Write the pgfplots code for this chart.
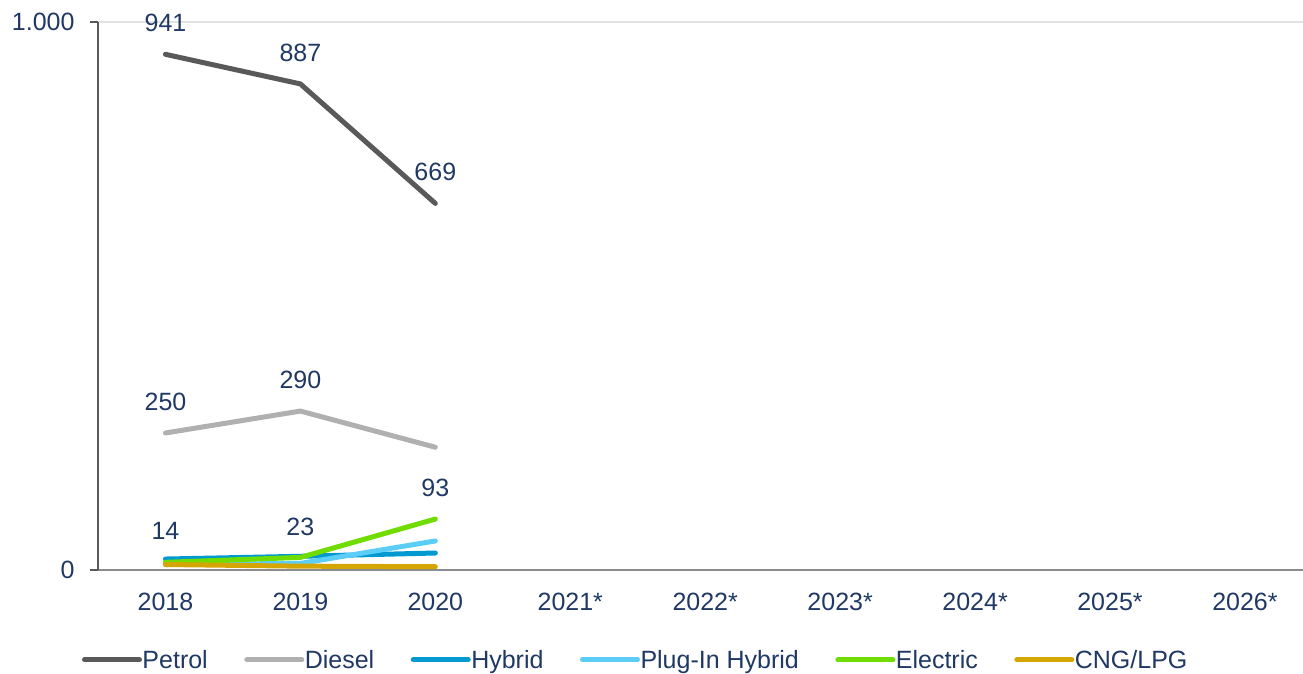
\documentclass[border=0pt]{standalone}
\usepackage{fontspec}
\setmainfont{Liberation Sans}
\usepackage{pgfplots}
\pgfplotsset{compat=1.18}

\definecolor{txt}{HTML}{1F3864}
\definecolor{cPetrol}{HTML}{595959}
\definecolor{cDiesel}{HTML}{B0B0B0}
\definecolor{cHybrid}{HTML}{009AD0}
\definecolor{cPlugin}{HTML}{5CCDF7}
\definecolor{cElectric}{HTML}{70DC00}
\definecolor{cCNG}{HTML}{D6A600}
\definecolor{cGrid}{HTML}{E3E3E3}

\newcommand{\chartfont}{\fontsize{25}{29}\selectfont}

\begin{document}
\begin{tikzpicture}[x=1pt,y=1pt,font=\chartfont]
\useasboundingbox (0,0) rectangle (1303,674);
\begin{axis}[
  at={(98pt,104pt)}, anchor=south west,
  scale only axis, width=1205pt, height=548pt,
  xmin=-0.5, xmax=8.43, ymin=0, ymax=1000,
  clip=false,
  axis x line=bottom, axis y line=left,
  x axis line style={-, draw=gray!90, line width=1.5pt},
  y axis line style={-, draw=cPetrol, line width=1.5pt},
  xtick={0,...,8},
  xticklabels={2018,2019,2020,2021*,2022*,2023*,2024*,2025*,2026*},
  xtick style={draw=none},
  ytick={0,1000}, yticklabels={0,1.000},
  ytick style={draw=cPetrol, line width=1.5pt},
  tick align=outside, major tick length=8pt,
  ymajorgrids, grid style={cGrid, line width=1.2pt},
  tick label style={font=\chartfont, text=txt},
  xticklabel style={yshift=-12pt},
  yticklabel style={xshift=-12pt},
  every node near coord/.style={anchor=center, yshift=31pt, font=\chartfont, text=txt},
  every axis plot/.append style={line width=5pt, line cap=round, line join=round, mark=none},
  legend style={at={(0.4456,-0.164)}, anchor=center, draw=none, fill=none,
    font=\chartfont, text=txt, inner sep=0pt,
    nodes={inner sep=0.5pt},
    /tikz/every even column/.append style={column sep=36pt}},
  legend columns=6,
  legend image code/.code={\draw[#1, line width=5pt, line cap=round] (0pt,0pt) -- (55pt,0pt);},
]
\addplot[cPetrol, nodes near coords, point meta=explicit symbolic]
  coordinates {(0,941)[941] (1,887)[887] (2,669)[669]};
\addlegendentry{Petrol}
\addplot[cDiesel, nodes near coords, point meta=explicit symbolic]
  coordinates {(0,250)[250] (1,290)[290] (2,224)[]};
\addlegendentry{Diesel}
\addplot[cHybrid]
  coordinates {(0,20) (1,25) (2,31)};
\addlegendentry{Hybrid}
\addplot[cPlugin]
  coordinates {(0,10) (1,12) (2,53)};
\addlegendentry{Plug-In Hybrid}
\addplot[cElectric, nodes near coords, point meta=explicit symbolic]
  coordinates {(0,14)[14] (1,23)[23] (2,93)[93]};
\addlegendentry{Electric}
\addplot[cCNG]
  coordinates {(0,10) (1,7) (2,6)};
\addlegendentry{CNG/LPG}
\end{axis}
\end{tikzpicture}
\end{document}
